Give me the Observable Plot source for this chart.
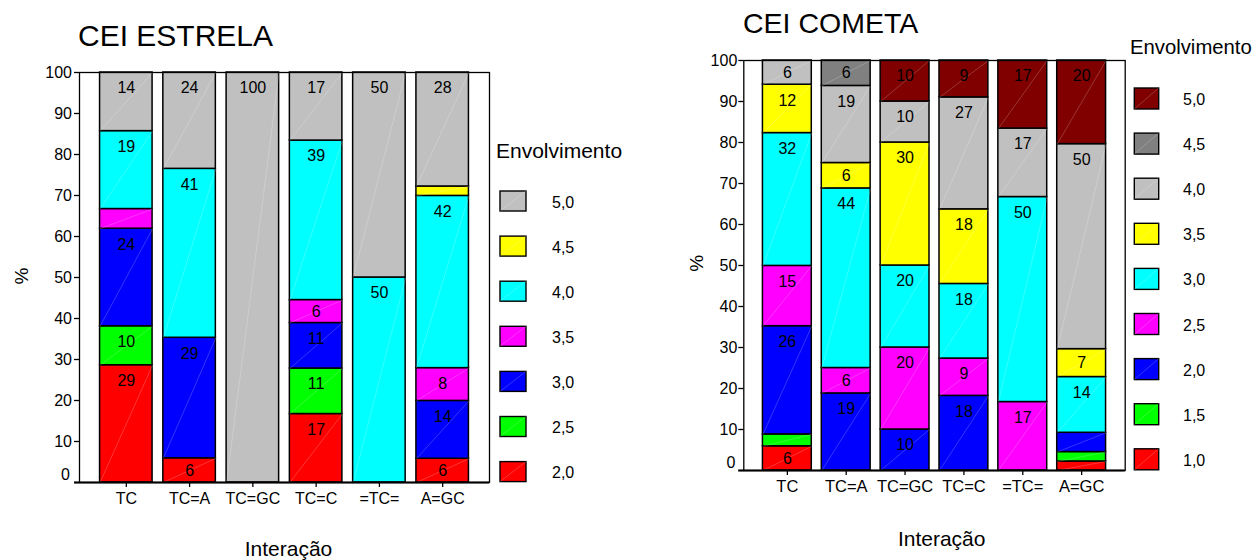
<!DOCTYPE html>
<html><head><meta charset="utf-8">
<script src="https://cdn.jsdelivr.net/npm/d3@7"></script>
<script src="https://cdn.jsdelivr.net/npm/@observablehq/plot@0.6"></script>
<style>
html,body{margin:0;padding:0;background:#fff;overflow:hidden}
#root{position:relative;width:1254px;height:560px;overflow:hidden;font-family:"Liberation Sans",Arial,sans-serif;color:#000;background:#fff}
#root > svg{position:absolute;top:0}
</style></head><body><div id="root"></div>
<script>
// ---------- DATA ----------
const categories = ["TC", "TC=A", "TC=GC", "TC=C", "=TC=", "A=GC"];
const yTicks = [0, 10, 20, 30, 40, 50, 60, 70, 80, 90, 100];

// CEI ESTRELA: rows = levels (bottom to top), columns = categories
const estrelaLevels = ["2,0", "2,5", "3,0", "3,5", "4,0", "4,5", "5,0"];
const estrelaColors = ["#ff0000", "#00ff00", "#0000ff", "#ff00ff", "#00ffff", "#ffff00", "#c0c0c0"];
const estrela20 = [28.6, 5.9, 0, 16.7, 0, 5.8];
const estrela25 = [9.5, 0, 0, 11.1, 0, 0];
const estrela30 = [23.8, 29.4, 0, 11.1, 0, 14.1];
const estrela35 = [4.8, 0, 0, 5.6, 0, 8.0];
const estrela40 = [19.0, 41.2, 0, 38.9, 50, 42.0];
const estrela45 = [0, 0, 0, 0, 0, 2.3];
const estrela50 = [14.3, 23.5, 100, 16.6, 50, 27.8];
const estrelaValues = [estrela20, estrela25, estrela30, estrela35, estrela40, estrela45, estrela50];

// CEI COMETA
const cometaLevels = ["1,0", "1,5", "2,0", "2,5", "3,0", "3,5", "4,0", "4,5", "5,0"];
const cometaColors = ["#ff0000", "#00ff00", "#0000ff", "#ff00ff", "#00ffff", "#ffff00", "#c0c0c0", "#808080", "#800000"];
const cometa10 = [5.9, 0, 0, 0, 0, 2.2];
const cometa15 = [2.9, 0, 0, 0, 0, 2.3];
const cometa20 = [26.4, 18.8, 10, 18.2, 0, 4.7];
const cometa25 = [14.7, 6.2, 20, 9.1, 16.7, 0];
const cometa30 = [32.4, 43.8, 20, 18.2, 50, 13.6];
const cometa35 = [11.8, 6.2, 30, 18.2, 0, 6.8];
const cometa40 = [5.9, 18.8, 10, 27.3, 16.7, 50.0];
const cometa45 = [0, 6.2, 0, 0, 0, 0];
const cometa50 = [0, 0, 10, 9.0, 16.6, 20.4];
const cometaValues = [cometa10, cometa15, cometa20, cometa25, cometa30, cometa35, cometa40, cometa45, cometa50];

// ---------- CHART ----------
const FONT = '"Liberation Sans", Arial, sans-serif';
const bandFrac = 0.83, outerPad = 0.325;

function chart(levels, colors, values, o) {
  const rows = [];
  categories.forEach((c, i) => {
    let acc = 0;
    levels.forEach((lv, j) => {
      const v = values[j][i];
      if (v > 0) rows.push({cat: c, i, level: lv, value: v, y1: acc, y2: acc + v});
      acc += v;
    });
  });
  const half = bandFrac / 2;
  const pxPerUnit = (o.height - o.mt - o.mb) / 100;
  const big = rows.filter(d => d.value >= 5 && d.value * pxPerUnit / 2 > 15.5);
  const small = rows.filter(d => d.value >= 5 && !(d.value * pxPerUnit / 2 > 15.5));
  const svg = Plot.plot({
    width: o.width, height: o.height,
    marginTop: o.mt, marginBottom: o.mb, marginLeft: o.ml, marginRight: o.mr,
    style: {fontFamily: FONT, fontSize: "16px", color: "#000", background: "transparent", overflow: "visible"},
    x: {domain: [-half - outerPad, categories.length - 1 + half + outerPad], axis: null},
    y: {domain: [0, 100], axis: null},
    color: {domain: levels, range: colors},
    marks: [
      Plot.rect(rows, {x1: d => d.i - half, x2: d => d.i + half, y1: "y1", y2: "y2", fill: "level", stroke: "#000", strokeWidth: 1.5}),
      Plot.link(rows, {x1: d => d.i - half, y1: "y1", x2: d => d.i + half, y2: "y2", stroke: "#fff", strokeOpacity: 0.3, strokeWidth: 0.7}),
      Plot.frame({stroke: "#000", strokeWidth: 1.3}),
      Plot.ruleY([0], {stroke: "#000", strokeWidth: 2, insetLeft: -5}),
      Plot.axisY({ticks: yTicks, tickSize: 5, tickPadding: o.tp, tickFormat: d => d === 0 ? "" : String(d), fontSize: 16, label: null, strokeWidth: 1.3}),
      Plot.text([0], {frameAnchor: "left", y: d => d, text: () => "0", textAnchor: "end", dx: -(5 + o.tp + 2), dy: -8, fontSize: 16}),
      Plot.axisX({ticks: d3.range(categories.length), tickFormat: i => categories[i], tickSize: 5, tickPadding: 5, fontSize: o.xfs, label: null, strokeWidth: 1.3}),
      Plot.text(big, {x: "i", y: "y2", text: d => String(Math.round(d.value)), lineAnchor: "top", dy: 9.5, fontSize: 16, fill: "#000"}),
      Plot.text(small, {x: "i", y: d => (d.y1 + d.y2) / 2, text: d => String(Math.round(d.value)), lineAnchor: "middle", fontSize: 16, fill: "#000"})
    ]
  });
  svg.style.left = o.left + "px";
  return svg;
}

const root = document.getElementById("root");
root.appendChild(chart(estrelaLevels, estrelaColors, estrelaValues,
  {left: 0, width: 500, height: 520, mt: 72, mb: 38, ml: 79, mr: 11, tp: 2.5, xfs: 16}));
root.appendChild(chart(cometaLevels, cometaColors, cometaValues,
  {left: 640, width: 500, height: 510, mt: 60, mb: 40, ml: 103.3, mr: 15.3, tp: 1.5, xfs: 16.5}));

// ---------- OVERLAY: titles, axis titles, legends ----------
const ov = d3.select(root).append("svg")
  .attr("width", 1254).attr("height", 560)
  .style("left", "0px").style("pointer-events", "none")
  .attr("font-family", FONT).attr("fill", "#000");

ov.append("text").attr("x", 78).attr("y", 46).attr("font-size", 30).text("CEI ESTRELA");
ov.append("text").attr("x", 743).attr("y", 33).attr("font-size", 28.5).text("CEI COMETA");

ov.append("text").attr("transform", "translate(27.5,276) rotate(-90)").attr("text-anchor", "middle").attr("font-size", 19).text("%");
ov.append("text").attr("transform", "translate(703,263.3) rotate(-90)").attr("text-anchor", "middle").attr("font-size", 19).text("%");

ov.append("text").attr("x", 288.5).attr("y", 556).attr("text-anchor", "middle").attr("font-size", 21).text("Interação");
ov.append("text").attr("x", 941.7).attr("y", 546).attr("text-anchor", "middle").attr("font-size", 21).text("Interação");

function legend(levels, colors, o) {
  ov.append("text").attr("x", o.tx).attr("y", o.ty).attr("font-size", o.tfs).text("Envolvimento");
  const items = levels.map((lv, j) => ({lv, c: colors[j]})).reverse();
  items.forEach((it, k) => {
    const y = o.sy + k * o.step;
    ov.append("rect").attr("x", o.sx).attr("y", y).attr("width", o.sw).attr("height", o.sh)
      .attr("fill", it.c).attr("stroke", "#000").attr("stroke-width", 1.4);
    ov.append("line").attr("x1", o.sx).attr("y1", y + o.sh).attr("x2", o.sx + o.sw).attr("y2", y)
      .attr("stroke", "#fff").attr("stroke-opacity", 0.3).attr("stroke-width", 0.7);
    ov.append("text").attr("x", o.lx).attr("y", y + o.sh / 2 + 6.5).attr("font-size", 16).text(it.lv);
  });
}
legend(estrelaLevels, estrelaColors, {tx: 496, ty: 158, tfs: 21, sx: 500, sy: 191, sw: 26, sh: 20, step: 45.1, lx: 552});
legend(cometaLevels, cometaColors, {tx: 1130, ty: 54, tfs: 20.3, sx: 1134.3, sy: 88, sw: 24.4, sh: 21, step: 45.1, lx: 1183});
</script></body></html>
